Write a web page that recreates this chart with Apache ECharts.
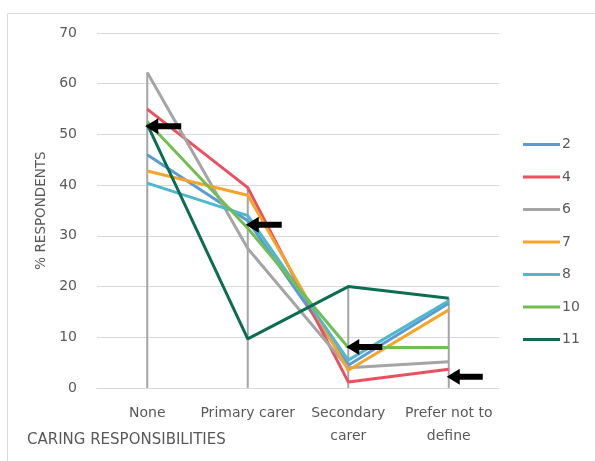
<!DOCTYPE html>
<html>
<head>
<meta charset="utf-8">
<script src="https://cdn.jsdelivr.net/npm/echarts@6/dist/echarts.min.js"></script>
<style>html,body{margin:0;padding:0;background:#fff;}#main{width:595px;height:461px;}</style>
</head>
<body>
<div id="main"></div>
<script>
const categories = ['None', 'Primary carer', 'Secondary\ncarer', 'Prefer not to\ndefine'];
const yTicks = [0, 10, 20, 30, 40, 50, 60, 70];
const seriesNames = ['2', '4', '6', '7', '8', '10', '11'];
const s2  = [46.0, 33.0, 4.5, 16.7];
const s4  = [55.0, 39.5, 1.2, 3.7];
const s6  = [62.2, 27.5, 4.0, 5.2];
const s7  = [42.8, 38.0, 3.5, 15.4];
const s8  = [40.4, 34.0, 5.5, 17.2];
const s10 = [52.5, 31.5, 8.0, 8.0];
const s11 = [52.0, 9.7, 20.0, 17.7];
const arrowPoints = [[0, 51.6], [1, 32.2], [2, 8.1], [3, 2.2]];
const colors = ['#5b9bd5', '#ec4f5f', '#a5a5a5', '#f7a42a', '#4fb8cc', '#70bf50', '#0b6e50'];

const allSeries = [s2, s4, s6, s7, s8, s10, s11];
const dropMax = categories.map((c, i) => Math.max(...allSeries.map(s => s[i])));

const txt = '#595959';
const font = 'DejaVu Sans, Liberation Sans, sans-serif';

const chart = echarts.init(document.getElementById('main'), null, {renderer: 'canvas'});
const series = [{
  type: 'bar', name: 'drop', data: dropMax, barWidth: 2,
  itemStyle: {color: '#a5a5a5'}, silent: true, z: 1, legendHoverLink: false
}];
allSeries.forEach((d, i) => {
  series.push({
    type: 'line', name: seriesNames[i], data: d, showSymbol: false, symbol: 'none',
    lineStyle: {width: 3, color: colors[i]}, itemStyle: {color: colors[i]}, z: 2 + i
  });
});
series.push({
  type: 'scatter', name: 'arrows', data: arrowPoints, z: 20,
  symbol: 'path://M0,8 L13,0 L13,5 L36,5 L36,11 L13,11 L13,16 Z',
  symbolSize: [36, 16], symbolOffset: [16, 0], symbolKeepAspect: false,
  itemStyle: {color: '#000', opacity: 1}, silent: true
});

chart.setOption({
  animation: false,
  color: colors,
  textStyle: {fontFamily: font},
  grid: {left: 97, right: 96, top: 33, bottom: 73},
  legend: {
    data: seriesNames, orient: 'vertical', left: 523, top: 136.5, padding: 0,
    icon: 'rect', itemWidth: 37, itemHeight: 3, itemGap: 16.5,
    textStyle: {color: txt, fontSize: 14, lineHeight: 16, fontFamily: font, padding: [0, 0, 0, -3]}
  },
  xAxis: {
    type: 'category', data: categories,
    axisLine: {lineStyle: {color: '#d9d9d9'}}, axisTick: {show: false},
    axisLabel: {color: txt, fontSize: 14, margin: 14, lineHeight: 23, interval: 0, fontFamily: font}
  },
  yAxis: {
    type: 'value', min: yTicks[0], max: yTicks[yTicks.length - 1], interval: 10,
    name: '% RESPONDENTS', nameLocation: 'middle', nameGap: 46, nameRotate: 90,
    nameTextStyle: {color: txt, fontSize: 13.5, fontFamily: font},
    axisLine: {show: false}, axisTick: {show: false},
    axisLabel: {color: txt, fontSize: 14, margin: 20, fontFamily: font},
    splitLine: {lineStyle: {color: '#d9d9d9', width: 1}}
  },
  graphic: [
    {type: 'rect', shape: {x: 7.5, y: 13.5, width: 600, height: 460}, style: {fill: 'none', stroke: '#d9d9d9', lineWidth: 1}, z: -1},
    {type: 'text', left: 27, top: 433, style: {text: 'CARING RESPONSIBILITIES', fill: txt, fontSize: 15, fontFamily: font}}
  ],
  series: series
});
</script>
</body>
</html>
